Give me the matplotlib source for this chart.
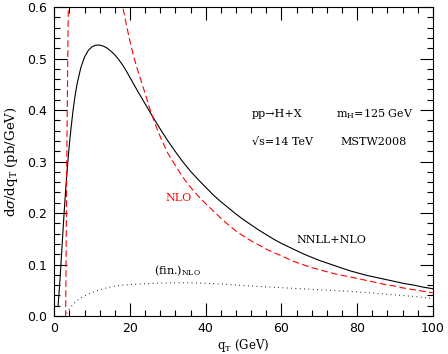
import numpy as np
import matplotlib
matplotlib.use('Agg')
import matplotlib.pyplot as plt
from matplotlib.ticker import MultipleLocator, FormatStrFormatter

plt.rcParams['mathtext.fontset'] = 'dejavuserif'

# NNLL+NLO resummed (solid black)
q_res = [1.0, 1.5, 2.0, 2.5, 3.0, 3.5, 4.0, 4.5, 5.0, 5.5, 6.0, 7.0, 8.0, 9.0,
         10.0, 11.0, 12.0, 13.0, 14.0, 15.0, 16.0, 17.0, 18.0, 19.0, 20.0, 22.0,
         24.0, 26.0, 28.0, 30.0, 32.0, 34.0, 36.0, 38.0, 40.0, 42.0, 44.0, 46.0,
         48.0, 50.0, 52.0, 54.0, 56.0, 58.0, 60.0, 62.0, 64.0, 66.0, 68.0, 70.0,
         72.0, 74.0, 76.0, 78.0, 80.0, 82.5, 85.0, 87.5, 90.0, 92.5, 95.0, 97.5,
         100.0]
s_res = [0.02, 0.07, 0.13, 0.19, 0.245, 0.293, 0.335, 0.37, 0.402, 0.428, 0.45,
         0.482, 0.503, 0.516, 0.523, 0.526, 0.526, 0.524, 0.52, 0.514, 0.507,
         0.498, 0.488, 0.476, 0.463, 0.437, 0.412, 0.387, 0.363, 0.34, 0.319,
         0.299, 0.281, 0.265, 0.25, 0.235, 0.222, 0.21, 0.198, 0.187, 0.177,
         0.167, 0.158, 0.149, 0.141, 0.134, 0.127, 0.12, 0.114, 0.108, 0.103,
         0.098, 0.093, 0.088, 0.084, 0.079, 0.075, 0.071, 0.067, 0.063, 0.06,
         0.056, 0.053]

# NLO fixed order (red dashed)
q_nlo = [2.9, 3.0, 3.1, 3.2, 3.3, 3.45, 3.6, 3.75, 4.0, 4.5, 6.0, 9.0, 12.0,
         15.0, 16.0, 17.0, 18.0, 19.0, 20.0, 21.0, 22.0, 23.0, 24.0, 25.0, 26.0,
         27.0, 28.0, 30.0, 32.0, 34.0, 36.0, 38.0, 40.0, 42.0, 44.0, 46.0, 48.0,
         50.0, 52.0, 54.0, 56.0, 58.0, 60.0, 62.0, 64.0, 66.0, 68.0, 70.0, 72.0,
         74.0, 76.0, 78.0, 80.0, 82.5, 85.0, 87.5, 90.0, 92.5, 95.0, 97.5, 100.0]
s_nlo = [-0.06, 0.0, 0.1, 0.2, 0.3, 0.42, 0.53, 0.63, 0.76, 0.9, 1.1, 1.15, 1.0,
         0.78, 0.72, 0.64, 0.603, 0.567, 0.533, 0.503, 0.478, 0.455, 0.432, 0.408,
         0.386, 0.366, 0.348, 0.316, 0.292, 0.269, 0.25, 0.233, 0.218, 0.204,
         0.19, 0.177, 0.165, 0.155, 0.146, 0.138, 0.13, 0.123, 0.117, 0.11, 0.104,
         0.099, 0.094, 0.09, 0.086, 0.082, 0.079, 0.076, 0.073, 0.069, 0.065,
         0.061, 0.058, 0.054, 0.051, 0.048, 0.045]

# finite part of NLO (dotted black)
q_fin = [3.3, 4.0, 5.0, 6.0, 7.0, 8.0, 9.0, 10.0, 12.0, 14.0, 16.0, 18.0, 20.0,
         22.0, 25.0, 28.0, 32.0, 36.0, 40.0, 45.0, 50.0, 55.0, 60.0, 65.0, 70.0,
         75.0, 80.0, 85.0, 90.0, 95.0, 100.0]
s_fin = [0.005, 0.014, 0.023, 0.03, 0.035, 0.039, 0.043, 0.046, 0.051, 0.055,
         0.058, 0.06, 0.061, 0.062, 0.063, 0.064, 0.0645, 0.0645, 0.0635, 0.062,
         0.059, 0.057, 0.055, 0.053, 0.051, 0.049, 0.047, 0.044, 0.041, 0.038,
         0.034]

fig = plt.figure(figsize=(4.48, 3.54), dpi=100)
ax = fig.add_axes([0.1212, 0.1073, 0.8449, 0.8729])

ax.plot(q_res, s_res, color='black', lw=0.8)
ax.plot(q_nlo, s_nlo, color='red', lw=0.8, dashes=(6, 3))
ax.plot(q_fin, s_fin, color='black', lw=0.8, dashes=(0.7, 3.2))

ax.set_xlim(0, 100)
ax.set_ylim(0, 0.6)
ax.xaxis.set_major_locator(MultipleLocator(20))
ax.xaxis.set_minor_locator(MultipleLocator(4))
ax.yaxis.set_major_locator(MultipleLocator(0.1))
ax.yaxis.set_minor_locator(MultipleLocator(0.02))
ax.tick_params(which='both', direction='in', top=True, right=True, width=0.8)
ax.tick_params(which='major', length=9.5, labelsize=9)
ax.tick_params(axis='y', which='major', pad=5)
ax.tick_params(axis='x', which='major', pad=4)
ax.tick_params(which='minor', length=4.3)
ax.yaxis.set_major_formatter(FormatStrFormatter('%.1f'))
for s in ax.spines.values():
    s.set_linewidth(0.8)

tfont = dict(family='DejaVu Serif', fontsize=8)
ax.set_xlabel(r'q$_{\rm T}$ (GeV)', labelpad=2, family='DejaVu Serif', fontsize=8.5)
ax.set_ylabel(r'd$\sigma$/dq$_{\rm T}$ (pb/GeV)', labelpad=5, family='DejaVu Serif',
              fontsize=9.5)

ax.text(52.2, 0.392, 'pp\u2192H+X', va='center', **tfont)
ax.text(74.4, 0.392, r'm$_{\rm H}$=125 GeV', va='center', **tfont)
ax.text(52.2, 0.338, '\u221as=14 TeV', va='center', **tfont)
ax.text(75.5, 0.338, 'MSTW2008', va='center', **tfont)
ax.text(29.3, 0.23, 'NLO', va='center', color='red', **tfont)
ax.text(64.0, 0.1475, 'NNLL+NLO', va='center', **tfont)
ax.text(26.3, 0.088, r'(fin.)$_{\rm NLO}$', va='center', **tfont)

fig.savefig('out.png', dpi=100)
